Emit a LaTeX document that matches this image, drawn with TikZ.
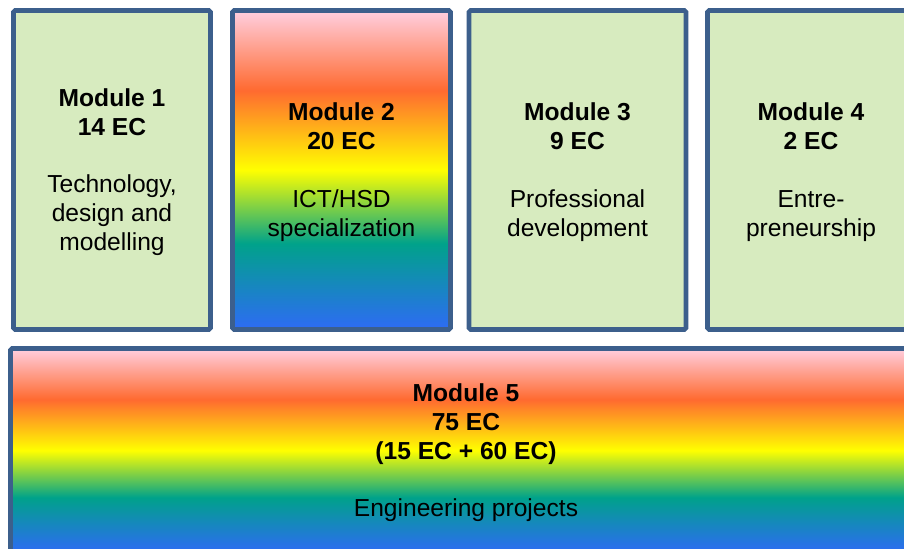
\documentclass[tikz,border=0pt]{standalone}
\usepackage{fontspec}
\setmainfont{Liberation Sans}
\definecolor{edgeblue}{HTML}{3C5F8C}
\definecolor{lightgreen}{HTML}{D7EBBF}
\definecolor{rpink}{HTML}{FFCFE0}
\definecolor{rorange}{HTML}{FF6A30}
\definecolor{ryellow}{HTML}{FFFF00}
\definecolor{rteal}{HTML}{00A28A}
\definecolor{rblue}{HTML}{2E6BF5}
\pgfdeclareverticalshading{rainbow}{100bp}{color(0bp)=(rblue); color(25bp)=(rblue); color(38.5bp)=(rteal); color(50bp)=(ryellow); color(62.5bp)=(rorange); color(75bp)=(rpink); color(100bp)=(rpink)}
\tikzset{
  modbox/.style={draw=edgeblue, line width=2.3pt, rounded corners=0.8pt, inner sep=0pt},
  greenbox/.style={modbox, fill=lightgreen},
  rainbowbox/.style={modbox, shading=rainbow},
  modtext/.style={align=center, inner sep=0pt, yshift=-1.1pt,
    font=\fontsize{12.3}{14.4}\selectfont, text=black},
}
\begin{document}
\begin{tikzpicture}[x=0.5pt,y=-0.5pt]
\useasboundingbox (0,0) rectangle (904,549);
\fill[white] (0,0) rectangle (904,549);
\node (m1) [greenbox, minimum width=98.5pt, minimum height=159.5pt] at (112,170) {};
\node (m2) [rainbowbox, minimum width=109pt, minimum height=159.5pt] at (341.5,170) {};
\node (m3) [greenbox, minimum width=108.5pt, minimum height=159.5pt] at (577.5,170) {};
\node (m4) [greenbox, minimum width=103.5pt, minimum height=159.5pt] at (811,170) {};
\node (m5) [rainbowbox, minimum width=455.5pt, minimum height=102pt] at (466,450.5) {};
\node (t1) [modtext] at (m1.center)
  {\textbf{Module 1}\\\textbf{14 EC}\\[14.4pt]Technology,\\design and\\modelling};
\node (t2) [modtext] at (m2.center)
  {\textbf{Module 2}\\\textbf{20 EC}\\[14.4pt]ICT/HSD\\specialization};
\node (t3) [modtext] at (m3.center)
  {\textbf{Module 3}\\\textbf{9 EC}\\[14.4pt]Professional\\development};
\node (t4) [modtext] at (m4.center)
  {\textbf{Module 4}\\\textbf{2 EC}\\[14.4pt]Entre-\\preneurship};
\node (t5) [modtext] at (m5.center)
  {\textbf{Module 5}\\\textbf{75 EC}\\\textbf{(15 EC + 60 EC)}\\[14.4pt]Engineering projects};
\end{tikzpicture}
\end{document}
